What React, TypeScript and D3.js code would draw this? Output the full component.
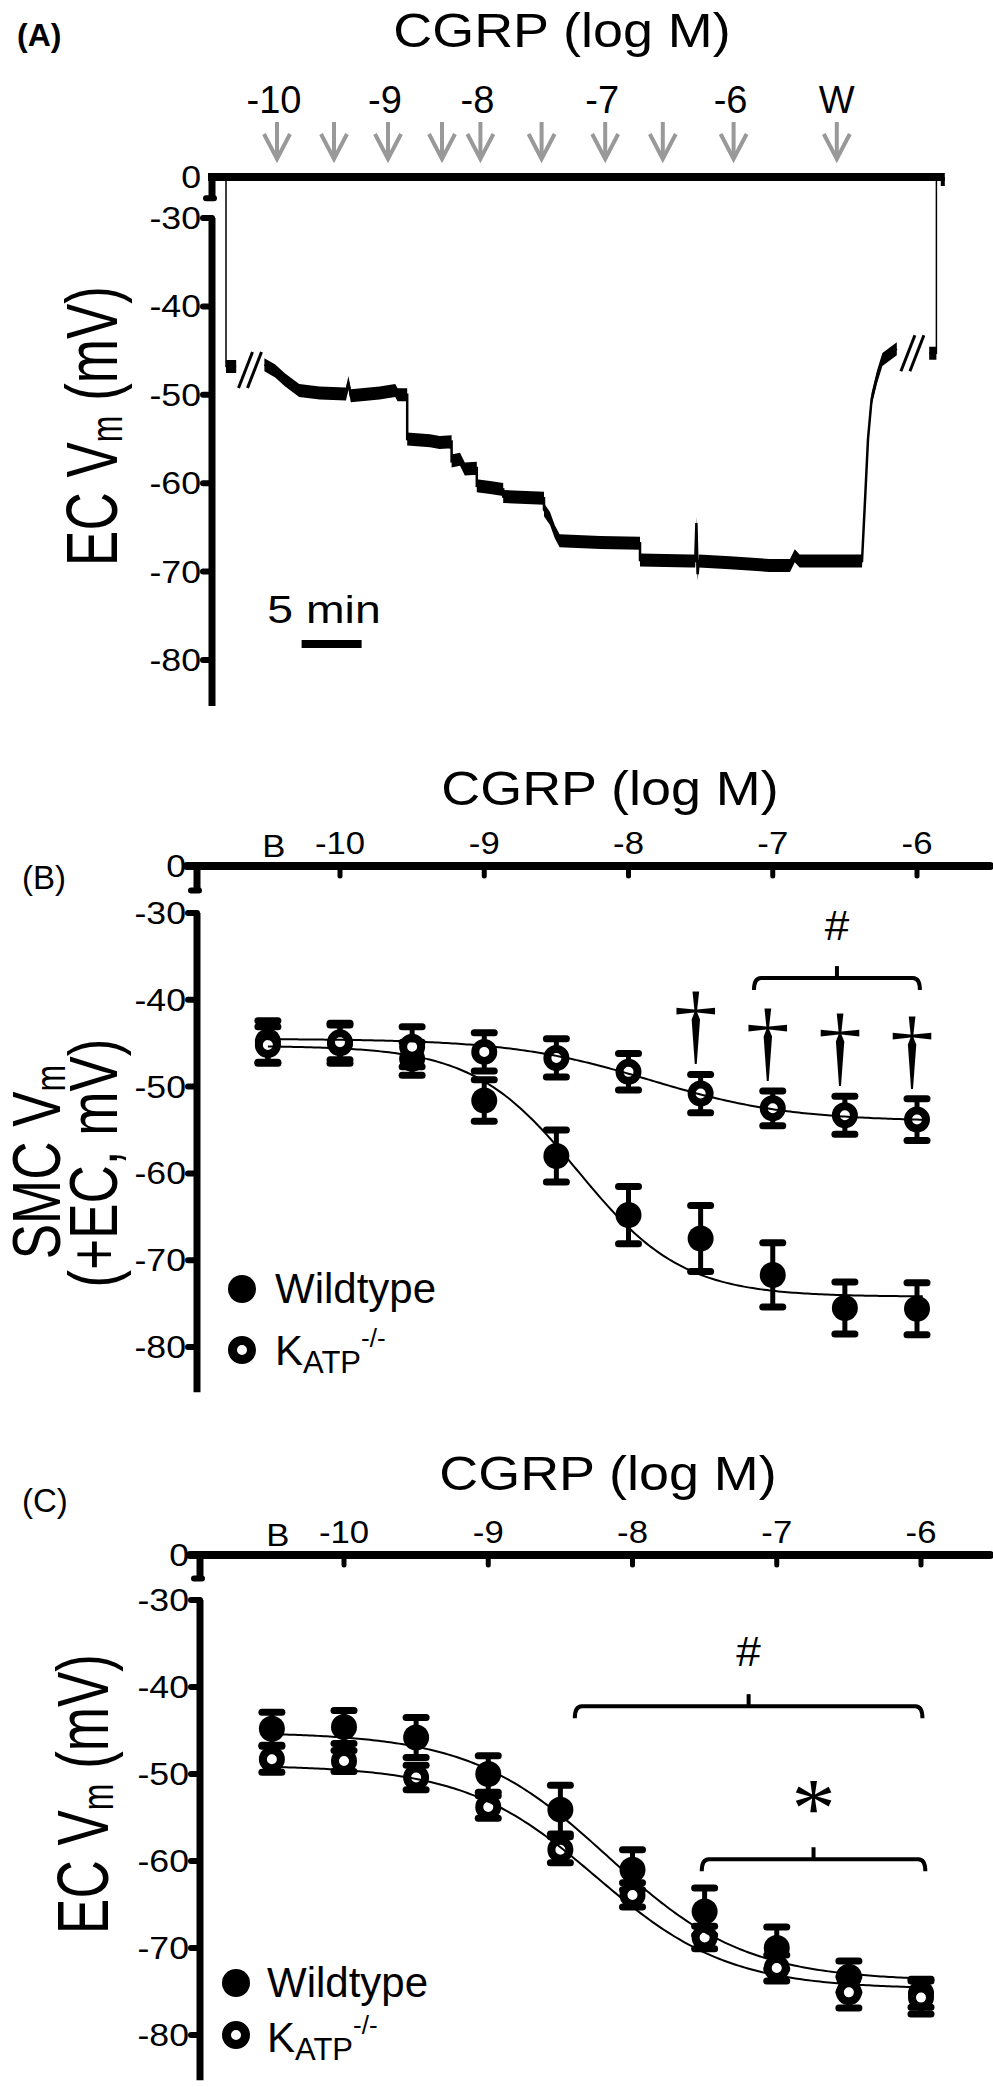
import React from 'react';
import * as d3 from 'd3';

const SANS = "'Liberation Sans', Arial, Helvetica, sans-serif";
const SERIF = "'Liberation Serif', 'Times New Roman', serif";

// ===== Panel A: EC membrane potential recording (minutes, mV) =====
const arrowMinutes = [4.25, 9.0, 13.5, 18.0, 21.2, 26.3, 31.6, 36.4, 42.3, 50.9];
const arrowLabels = ['-10', '', '-9', '', '-8', '', '-7', '', '-6', 'W'];
const impaleTrace: [number, number][] = [[0, 0], [0, -46.8], [0.85, -46.8]];
const recordingTrace: [number, number][] = [
  [3.2, -46.6], [4.1, -47.3], [4.9, -48.3], [6.1, -49.5], [7.8, -49.8], [10.0, -49.9],
  [10.2, -48.6], [10.4, -50.1], [12.8, -49.8], [14.1, -49.5], [14.3, -50.0], [15.1, -50.0],
  [15.1, -55.0], [17.0, -55.2], [17.8, -55.4], [18.8, -55.3],
  [18.8, -57.5], [19.5, -57.3], [19.9, -58.4], [20.9, -58.3],
  [20.9, -60.3], [22.0, -60.5], [23.1, -60.7],
  [23.1, -61.5], [24.5, -61.6], [26.5, -61.7],
  [26.5, -63.0], [27.0, -64.0], [27.4, -65.5], [27.8, -66.5],
  [31.2, -66.7], [34.5, -66.8],
  [34.5, -68.7], [38.7, -68.8], [39.1, -68.8], [39.2, -64.5], [39.3, -70.3], [39.4, -68.8],
  [42.0, -69.0], [45.3, -69.3], [47.0, -69.3], [47.4, -68.2], [47.8, -68.8], [53.0, -68.8],
  [53.25, -62.0], [53.5, -55.0], [53.8, -50.5], [54.25, -48.0], [54.7, -46.0], [55.9, -44.8],
];
const withdrawTrace: [number, number][] = [[58.6, -45.3], [59.2, -45.3], [59.2, 0]];
const breakMarks: [number, number][] = [[2.0, -47.2], [57.2, -45.3]];
const scaleBarMinutes = [6.3, 11.3];
const scaleBarLevel = -78.2;
const recordingEnd = 59.9;

const yTicks = [-30, -40, -50, -60, -70, -80];
const yAxisBottom = -85.2;

// ===== Panels B & C: concentration-response =====
const xTickDoses = [-10, -9, -8, -7, -6];
const xTickLabels = ['-10', '-9', '-8', '-7', '-6'];
const baselineDose = -10.5;
const logDoses = [-10.5, -10, -9.5, -9, -8.5, -8, -7.5, -7, -6.5, -6];

// Panel B: SMC Vm (+EC)
const smcWtMean = [-44.8, -45.0, -46.8, -51.6, -58.0, -64.8, -67.5, -71.7, -75.5, -75.6];
const smcWtSem = [2.4, 2.3, 1.9, 2.4, 3.0, 3.3, 3.8, 3.7, 3.0, 3.0];
const smcKoMean = [-45.2, -44.9, -45.4, -46.0, -46.7, -48.3, -50.8, -52.5, -53.3, -53.8];
const smcKoSem = [2.1, 2.0, 2.3, 2.2, 2.2, 2.1, 2.2, 2.0, 2.2, 2.4];
const smcWtFit = { top: -45.3, bottom: -74.2, logEC50: -8.35, hill: 1.2 };
const smcKoFit = { top: -44.5, bottom: -54.0, logEC50: -7.85, hill: 0.9 };
const smcDaggerDoses = [-7.5, -7, -6.5, -6];
const smcHashBracket = { from: -7.13, to: -5.98, level: -37.5 };

// Panel C: EC Vm
const ecWtMean = [-44.8, -44.6, -45.8, -50.0, -54.1, -61.0, -65.8, -70.0, -73.3, -75.2];
const ecWtSem = [1.9, 1.9, 2.3, 2.1, 2.8, 2.3, 2.7, 2.4, 1.8, 1.6];
const ecKoMean = [-48.3, -48.5, -50.4, -53.8, -58.7, -63.9, -68.8, -72.3, -75.1, -75.7];
const ecKoSem = [1.5, 1.2, 1.4, 1.3, 1.5, 1.4, 1.3, 1.5, 1.8, 1.9];
const ecWtFit = { top: -45.2, bottom: -73.8, logEC50: -8.17, hill: 0.91 };
const ecKoFit = { top: -49.0, bottom: -74.7, logEC50: -8.25, hill: 0.95 };
const ecHashBracket = { from: -8.4, to: -5.99, level: -42.2 };
const ecStarBracket = { from: -7.52, to: -5.97, level: -59.8 };

type Fit = { top: number; bottom: number; logEC50: number; hill: number };
const sigmoid = (p: Fit, x: number) =>
  p.bottom + (p.top - p.bottom) / (1 + Math.pow(10, (x - p.logEC50) * p.hill));

function STxt(props: any) {
  const { x, y, sx = 1, size, anchor = 'start', weight = 'normal', family = SANS, rotate = false, children, fill = '#000' } = props;
  const t = `translate(${x},${y}) scale(${sx},1)${rotate ? ' rotate(-90)' : ''}`;
  return (
    <text transform={t} fontSize={size} textAnchor={anchor} fontWeight={weight} fontFamily={family} fill={fill}>
      {children}
    </text>
  );
}

function BrokenYAxis({ ax, y }: { ax: number; y: any }) {
  const yZero = y(0);
  const y30 = y(-30);
  const breakEnd = yZero + (y30 - yZero) * 0.52;
  return (
    <g>
      <line x1={ax} x2={ax} y1={yZero} y2={breakEnd} stroke="#000" strokeWidth={7} />
      <line x1={ax - 6} x2={ax + 2} y1={breakEnd} y2={breakEnd} stroke="#000" strokeWidth={6} strokeLinecap="round" />
      <line x1={ax} x2={ax} y1={y30} y2={y(yAxisBottom)} stroke="#000" strokeWidth={7} />
      {yTicks.map((t) => (
        <line key={t} x1={ax - 9} x2={ax} y1={y(t)} y2={y(t)} stroke="#000" strokeWidth={6} strokeLinecap="round" />
      ))}
      {[0, ...yTicks].map((t) => (
        <STxt key={'l' + t} x={ax - 11} y={y(t) + 11} sx={1.15} size={31} anchor="end">
          {String(t)}
        </STxt>
      ))}
    </g>
  );
}

function Bracket({ x, y, b, label, labelSize, labelFamily, labelDy }: any) {
  const x1 = x(b.from);
  const x2 = x(b.to);
  const yy = y(b.level);
  const mid = (x1 + x2) / 2;
  const drop = 12;
  const d = `M${x1},${yy + drop} Q${x1},${yy} ${x1 + 7},${yy} L${x2 - 7},${yy} Q${x2},${yy} ${x2},${yy + drop}`;
  return (
    <g>
      <path d={d} fill="none" stroke="#000" strokeWidth={4} />
      <line x1={mid} x2={mid} y1={yy} y2={yy - 12} stroke="#000" strokeWidth={4} />
      <STxt x={mid} y={yy - labelDy} size={labelSize} anchor="middle" family={labelFamily} sx={1.05}>
        {label}
      </STxt>
    </g>
  );
}

function DosePanel(props: any) {
  const { x, y, ax, wtMean, wtSem, koMean, koSem, wtFit, koFit, title, legend } = props;
  const yZero = y(0);
  const xs = d3.range(baselineDose, -5.94, 0.02);
  const line = d3
    .line<number>()
    .x((d) => x(d))
    .curve(d3.curveLinear);
  const wtPath = line.y((d) => y(sigmoid(wtFit, d)))(xs) as string;
  const koPath = line.y((d) => y(sigmoid(koFit, d)))(xs) as string;
  const errBars = (means: number[], sems: number[], key: string) =>
    means.map((m, i) => {
      const cx = x(logDoses[i]);
      const yt = y(m + sems[i]);
      const yb = y(m - sems[i]);
      return (
        <g key={key + i}>
          <line x1={cx} x2={cx} y1={yt} y2={yb} stroke="#000" strokeWidth={5} />
          <line x1={cx - 10} x2={cx + 10} y1={yt} y2={yt} stroke="#000" strokeWidth={7} strokeLinecap="round" />
          <line x1={cx - 10} x2={cx + 10} y1={yb} y2={yb} stroke="#000" strokeWidth={7} strokeLinecap="round" />
        </g>
      );
    });
  return (
    <g>
      {/* x axis at 0 */}
      <line x1={ax - 10} x2={990} y1={yZero} y2={yZero} stroke="#000" strokeWidth={8} strokeLinecap="round" />
      {xTickDoses.map((d, i) => (
        <g key={'xt' + d}>
          <line x1={x(d)} x2={x(d)} y1={yZero} y2={yZero + 10} stroke="#000" strokeWidth={5} strokeLinecap="round" />
          <STxt x={x(d)} y={yZero - 12} sx={1.12} size={31} anchor="middle">
            {xTickLabels[i]}
          </STxt>
        </g>
      ))}
      <STxt x={x(baselineDose) + 6} y={yZero - 9} sx={1.12} size={31} anchor="middle">
        B
      </STxt>
      <BrokenYAxis ax={ax} y={y} />
      <STxt x={title[0]} y={title[1]} sx={1.1} size={49} anchor="middle">
        CGRP (log M)
      </STxt>
      {errBars(wtMean, wtSem, 'we')}
      {wtMean.map((m: number, i: number) => (
        <circle key={'wm' + i} cx={x(logDoses[i])} cy={y(m)} r={13} fill="#000" />
      ))}
      {errBars(koMean, koSem, 'ke')}
      {koMean.map((m: number, i: number) => (
        <circle key={'km' + i} cx={x(logDoses[i])} cy={y(m)} r={9} fill="#fff" stroke="#000" strokeWidth={8} />
      ))}
      <path d={wtPath} fill="none" stroke="#000" strokeWidth={2} />
      <path d={koPath} fill="none" stroke="#000" strokeWidth={2} />
      {/* legend */}
      <circle cx={legend.cx} cy={legend.y1} r={14} fill="#000" />
      <circle cx={legend.cx} cy={legend.y2} r={9.5} fill="#fff" stroke="#000" strokeWidth={9} />
      <text x={legend.tx} y={legend.b1} fontSize={42} fontFamily={SANS}>
        Wildtype
      </text>
      <text x={legend.tx} y={legend.b2} fontSize={42} fontFamily={SANS}>
        K
        <tspan fontSize={31} dy={legend.subDy}>
          ATP
        </tspan>
        <tspan fontSize={26} dy={legend.supDy}>
          -/-
        </tspan>
      </text>
      {props.children}
    </g>
  );
}

export default function App() {
  // ---- Panel A scales ----
  const xA = d3.scaleLinear().domain([0, 60]).range([226, 946]);
  const yA = d3.scaleLinear().domain([0, -30, -80]).range([177, 218, 660]);
  const axA = 212;
  const band = d3
    .area<[number, number]>()
    .x((d) => xA(d[0]))
    .y0((d) => yA(d[1]) - 6.5)
    .y1((d) => yA(d[1]) + 6.5);
  const thin = d3
    .line<[number, number]>()
    .x((d) => xA(d[0]))
    .y((d) => yA(d[1]));

  // ---- Panel B scales ----
  const xB = d3.scaleLinear().domain([-10, -6]).range([340, 917]);
  const yB = d3.scaleLinear().domain([0, -30, -80]).range([866, 913, 1347]);
  // ---- Panel C scales ----
  const xC = d3.scaleLinear().domain([-10, -6]).range([344, 921]);
  const yC = d3.scaleLinear().domain([0, -30, -80]).range([1555, 1600, 2035]);

  return (
    <div style={{ position: 'absolute', left: 0, top: 0, width: 993, height: 2087, background: '#fff' }}>
      <svg width={993} height={2087} viewBox="0 0 993 2087" style={{ display: 'block' }}>
        <rect width={993} height={2087} fill="#fff" />

        {/* ================= Panel A ================= */}
        <text x={17} y={46} fontSize={32} fontWeight="bold" fontFamily={SANS}>
          (A)
        </text>
        <STxt x={562} y={47} sx={1.1} size={49} anchor="middle">
          CGRP (log M)
        </STxt>
        {arrowMinutes.map((m, i) => {
          const ax = xA(m);
          return (
            <g key={'ar' + i}>
              <line x1={ax} x2={ax} y1={122} y2={157} stroke="#999" strokeWidth={4} />
              <polyline
                points={`${ax - 13},${134} ${ax},${159} ${ax + 13},${134}`}
                fill="none"
                stroke="#999"
                strokeWidth={4}
              />
              {arrowLabels[i] && (
                <STxt x={ax - (arrowLabels[i] === 'W' ? 0 : 3)} y={113} size={38} anchor="middle">
                  {arrowLabels[i]}
                </STxt>
              )}
            </g>
          );
        })}
        {/* zero line */}
        <line x1={axA - 4} x2={xA(recordingEnd)} y1={yA(0)} y2={yA(0)} stroke="#000" strokeWidth={8} />
        <line x1={xA(recordingEnd) - 2} x2={xA(recordingEnd) - 2} y1={yA(0)} y2={yA(0) + 9} stroke="#000" strokeWidth={4} />
        <BrokenYAxis ax={axA} y={yA} />
        {/* recording */}
        <path d={thin(impaleTrace) as string} fill="none" stroke="#000" strokeWidth={1.5} />
        <path d={band(impaleTrace.slice(1)) as string} fill="#000" />
        <path d={band(recordingTrace) as string} fill="#000" />
        <path d={thin(recordingTrace) as string} fill="none" stroke="#000" strokeWidth={2.5} />
        <path d={band(withdrawTrace.slice(0, 2)) as string} fill="#000" />
        <path d={thin(withdrawTrace) as string} fill="none" stroke="#000" strokeWidth={1.5} />
        {breakMarks.map(([t, v], i) => (
          <g key={'bk' + i}>
            {[-4.5, 4.5].map((o) => (
              <line
                key={o}
                x1={xA(t) + o - 7}
                x2={xA(t) + o + 7}
                y1={yA(v) + 18}
                y2={yA(v) - 18}
                stroke="#000"
                strokeWidth={3}
              />
            ))}
          </g>
        ))}
        {/* scale bar */}
        <line
          x1={xA(scaleBarMinutes[0])}
          x2={xA(scaleBarMinutes[1])}
          y1={yA(scaleBarLevel)}
          y2={yA(scaleBarLevel)}
          stroke="#000"
          strokeWidth={8}
        />
        <STxt x={324} y={623} sx={1.22} size={38} anchor="middle">
          5 min
        </STxt>
        <STxt x={117} y={426} sx={1.37} size={53} anchor="middle" rotate>
          EC V
          <tspan fontSize={32} dy={4}>
            m
          </tspan>
          <tspan dy={-4}>{'\u00a0(mV)'}</tspan>
        </STxt>

        {/* ================= Panel B ================= */}
        <text x={22} y={889} fontSize={33} fontFamily={SANS}>
          (B)
        </text>
        <DosePanel
          x={xB}
          y={yB}
          ax={197}
          wtMean={smcWtMean}
          wtSem={smcWtSem}
          koMean={smcKoMean}
          koSem={smcKoSem}
          wtFit={smcWtFit}
          koFit={smcKoFit}
          title={[610, 805]}
          legend={{ cx: 242, y1: 1289, y2: 1350, tx: 275, b1: 1303, b2: 1365, subDy: 8, supDy: -26 }}
        >
          {smcDaggerDoses.map((d) => {
            const i = logDoses.indexOf(d);
            return (
              <text
                key={'dg' + d}
                x={xB(d) - 5}
                y={yB(smcKoMean[i] + smcKoSem[i]) - 20}
                fontSize={88}
                fontFamily={SERIF}
                textAnchor="middle"
              >
                †
              </text>
            );
          })}
          <Bracket x={xB} y={yB} b={smcHashBracket} label="#" labelSize={42} labelFamily={SANS} labelDy={38} />
        </DosePanel>
        <STxt x={60} y={1162} sx={1.3} size={53} anchor="middle" rotate>
          SMC V
          <tspan fontSize={32} dy={4}>
            m
          </tspan>
        </STxt>
        <STxt x={117} y={1163} sx={1.3} size={53} anchor="middle" rotate>
          (+EC, mV)
        </STxt>

        {/* ================= Panel C ================= */}
        <text x={22} y={1512} fontSize={33} fontFamily={SANS}>
          (C)
        </text>
        <DosePanel
          x={xC}
          y={yC}
          ax={200}
          wtMean={ecWtMean}
          wtSem={ecWtSem}
          koMean={ecKoMean}
          koSem={ecKoSem}
          wtFit={ecWtFit}
          koFit={ecKoFit}
          title={[608, 1490]}
          legend={{ cx: 236, y1: 1983, y2: 2035, tx: 267, b1: 1997, b2: 2052, subDy: 8, supDy: -26 }}
        >
          <Bracket x={xC} y={yC} b={ecHashBracket} label="#" labelSize={42} labelFamily={SANS} labelDy={40} />
          <Bracket x={xC} y={yC} b={ecStarBracket} label="*" labelSize={84} labelFamily={SERIF} labelDy={22} />
        </DosePanel>
        <STxt x={108} y={1794} sx={1.37} size={53} anchor="middle" rotate>
          EC V
          <tspan fontSize={32} dy={4}>
            m
          </tspan>
          <tspan dy={-4}>{'\u00a0(mV)'}</tspan>
        </STxt>
      </svg>
    </div>
  );
}
